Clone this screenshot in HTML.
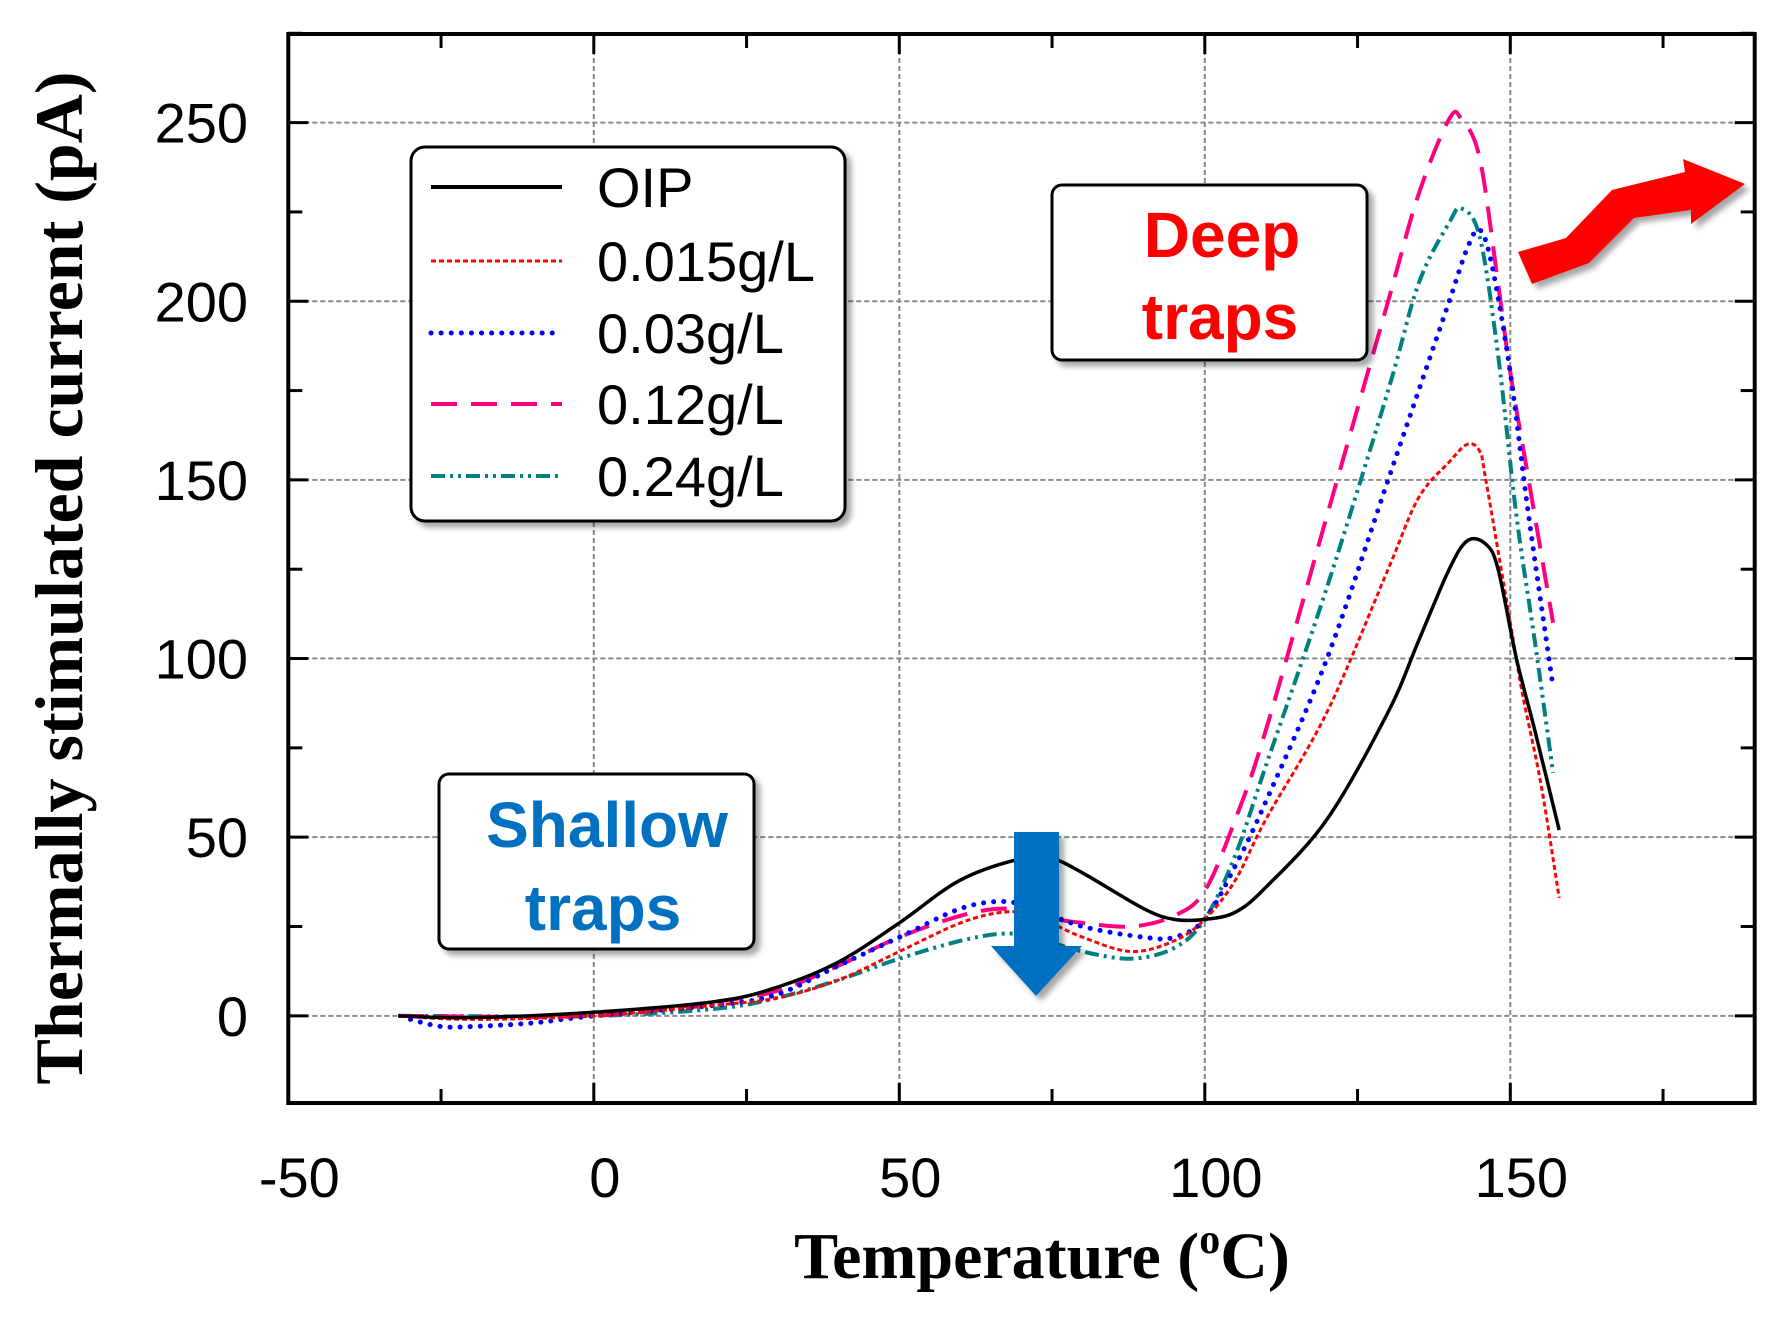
<!DOCTYPE html>
<html><head><meta charset="utf-8"><style>
html,body{margin:0;padding:0;background:#fff;}
svg{display:block;}
</style></head><body>
<svg id="chart" width="1778" height="1319" xmlns="http://www.w3.org/2000/svg">
<defs>
<filter id="sh" x="-10%" y="-10%" width="130%" height="130%"><feDropShadow dx="5" dy="5" stdDeviation="3" flood-color="#000" flood-opacity="0.35"/></filter>
</defs>
<g id="grid"></g>
<g id="series"></g>
<rect x="288.3" y="34" width="1466.4" height="1069" fill="none" stroke="#000" stroke-width="4"/>
<g id="ticks"></g>
<g id="labels" font-family="Liberation Sans, sans-serif" font-size="56"></g>
<text x="1042" y="1278" text-anchor="middle" font-family="Liberation Serif, serif" font-weight="bold" font-size="66">Temperature (<tspan font-size="42" dy="-25">o</tspan><tspan dy="25">C)</tspan></text>
<text transform="translate(82,578) rotate(-90)" text-anchor="middle" font-family="Liberation Serif, serif" font-weight="bold" font-size="68">Thermally stimulated current (pA)</text>

<g>
<rect x="411" y="147" width="434" height="374" rx="14" fill="#fff" stroke="#000" stroke-width="3" filter="url(#sh)"/>
<line x1="431" y1="187" x2="562" y2="187" stroke="#000" stroke-width="4"/>
<text x="597" y="207" font-family="Liberation Sans, sans-serif" font-size="56">OIP</text>
<line x1="431" y1="261" x2="562" y2="261" stroke="#f00" stroke-width="3" stroke-dasharray="5,3"/>
<text x="597" y="281" font-family="Liberation Sans, sans-serif" font-size="56">0.015g/L</text>
<line x1="431" y1="333" x2="562" y2="333" stroke="#00f" stroke-width="5" stroke-dasharray="0.1,10" stroke-linecap="round"/>
<text x="597" y="353" font-family="Liberation Sans, sans-serif" font-size="56">0.03g/L</text>
<line x1="431" y1="404" x2="562" y2="404" stroke="#ff0080" stroke-width="4" stroke-dasharray="26,14"/>
<text x="597" y="424" font-family="Liberation Sans, sans-serif" font-size="56">0.12g/L</text>
<line x1="431" y1="476" x2="562" y2="476" stroke="#008080" stroke-width="4" stroke-dasharray="14,5,3,5,3,5"/>
<text x="597" y="496" font-family="Liberation Sans, sans-serif" font-size="56">0.24g/L</text>
</g>

<g>
<rect x="1052" y="185" width="315" height="175" rx="10" fill="#fff" stroke="#000" stroke-width="3" filter="url(#sh)"/>
<text x="1222" y="257" text-anchor="middle" fill="#f00" font-family="Liberation Sans, sans-serif" font-weight="bold" font-size="64">Deep</text>
<text x="1220" y="339" text-anchor="middle" fill="#f00" font-family="Liberation Sans, sans-serif" font-weight="bold" font-size="64">traps</text>
<polygon points="1518,252 1566,238 1612,190 1685,172 1683,159 1745,184 1691,224 1691,210 1634,218 1589,263 1532,284" fill="#f00" filter="url(#sh)"/>
</g>
<g>
<rect x="439" y="774" width="315" height="175" rx="10" fill="#fff" stroke="#000" stroke-width="3" filter="url(#sh)"/>
<text x="607" y="847" text-anchor="middle" fill="#0070c0" font-family="Liberation Sans, sans-serif" font-weight="bold" font-size="64">Shallow</text>
<text x="603" y="930" text-anchor="middle" fill="#0070c0" font-family="Liberation Sans, sans-serif" font-weight="bold" font-size="64">traps</text>
<polygon points="1014,832 1059,832 1059,946 1082,946 1036,996 991,946 1014,946" fill="#0070c0" filter="url(#sh)"/>
</g>
</svg>
<script>
const xTicks=[-50,0,50,100,150];
const yTicks=[0,50,100,150,200,250];
const xOIP=[-32,-20,0,20,30,40,50,60,70,75,80,90,95,100,105,110,120,130,135,140,143,146,148,151,154,158];
const yOIP=[0,-0.5,1,4,8,15,26,38,44,44,40,30,27,27,29,36,55,85,105,125,133,132,125,100,80,52];
const x015=[-32,-20,0,20,30,40,50,60,67,72,80,88,95,100,105,110,120,130,135,140,143,145,146,150,152,155,158];
const y015=[0,-1,0,3,5,10,18,26,29,28,22,18,21,27,38,55,85,125,145,155,160,158,150,110,90,65,33];
const x003=[-30,-25,-20,-10,0,20,30,40,50,60,67,72,80,90,95,100,105,110,120,130,135,140,143,145,147,150,153,157];
const y003=[-1,-3,-3,-2,0,3,6,14,22,30,32,30,25,22,22,27,42,60,100,150,175,200,215,220,210,180,140,92];
const x012=[-32,0,20,30,40,50,60,67,72,80,88,95,100,105,110,120,130,135,140,142,145,148,150,153,157];
const y012=[0,0,4,7,14,22,28,30,28,26,25,28,35,55,80,140,200,230,251,251,240,205,180,150,110];
const x024=[-32,0,20,30,40,50,60,67,72,80,88,95,100,105,110,120,130,135,140,142,145,148,151,154,157];
const y024=[0,0,2,5,10,16,21,23,22,18,16,19,27,45,70,120,175,205,222,226,218,185,140,105,68];
const X0=288.3,X1=1754.7,Y0=1103,Y1=34;
const xmin=-50,xmax=190,ymin=-24.4,ymax=274.8;
function sx(v){return X0+(v-xmin)/(xmax-xmin)*(X1-X0);}
function sy(v){return Y0-(v-ymin)/(ymax-ymin)*(Y0-Y1);}
const NS='http://www.w3.org/2000/svg';
function mk(t,a,p){const e=document.createElementNS(NS,t);for(const k in a)e.setAttribute(k,a[k]);p.appendChild(e);return e;}
const grid=document.getElementById('grid'),ticks=document.getElementById('ticks'),labels=document.getElementById('labels');
xTicks.forEach(v=>{
  if(v>xmin){const g=mk('line',{x1:sx(v),x2:sx(v),y1:Y1,y2:Y0,stroke:'#888','stroke-width':2,'stroke-dasharray':'5,3'},grid);
  
  }
  const t=mk('text',{x:sx(v)+11,y:1197,'text-anchor':'middle'},labels);t.textContent=v;
  
  
});
for(let v=-25;v<=175;v+=25){[[Y0,Y0-(v%50===0?20:14)],[Y1,Y1+(v%50===0?20:14)]].forEach(p=>{
  const l=mk('line',{x1:sx(v),x2:sx(v),y1:p[0],y2:p[1],stroke:'#000','stroke-width':3},ticks);
  
  });}
yTicks.forEach(v=>{
  const g=mk('line',{x1:X0,x2:X1,y1:sy(v),y2:sy(v),stroke:'#888','stroke-width':2,'stroke-dasharray':'5,3'},grid);
  
  
  const t=mk('text',{x:248,y:sy(v)+20,'text-anchor':'end'},labels);t.textContent=v;
  
  
});
for(let v=-25;v<=275;v+=25){if(v<ymin)continue;[[X0,X0+(v%50===0?20:14)],[X1,X1-(v%50===0?20:14)]].forEach(p=>{
  const l=mk('line',{x1:p[0],x2:p[1],y1:sy(v),y2:sy(v),stroke:'#000','stroke-width':3},ticks);
  
  });}
function path(xs,ys){const P=xs.map((x,i)=>[sx(x),sy(ys[i])]);let d='M'+P[0][0]+','+P[0][1];
  for(let i=0;i<P.length-1;i++){const p0=P[i-1]||P[i],p1=P[i],p2=P[i+1],p3=P[i+2]||p2;
  d+=` C${p1[0]+(p2[0]-p0[0])/6},${p1[1]+(p2[1]-p0[1])/6} ${p2[0]-(p3[0]-p1[0])/6},${p2[1]-(p3[1]-p1[1])/6} ${p2[0]},${p2[1]}`;}return d;}
const S=document.getElementById('series');
const defs=[[x024,y024,'#008080',4,'14,5,3,5,3,5','butt','series-0.24'],[x012,y012,'#ff0080',4,'26,14','butt','series-0.12'],[x003,y003,'#00f',5,'0.1,10','round','series-0.03'],[x015,y015,'#f00',3,'5,3','butt','series-0.015'],[xOIP,yOIP,'#000',3.5,'none','butt','series-oip']];
defs.forEach(s=>{const p=mk('path',{d:path(s[0],s[1]),fill:'none',stroke:s[2],'stroke-width':s[3],'stroke-dasharray':s[4],'stroke-linecap':s[5]},S);
  
  });
</script>
</body></html>
